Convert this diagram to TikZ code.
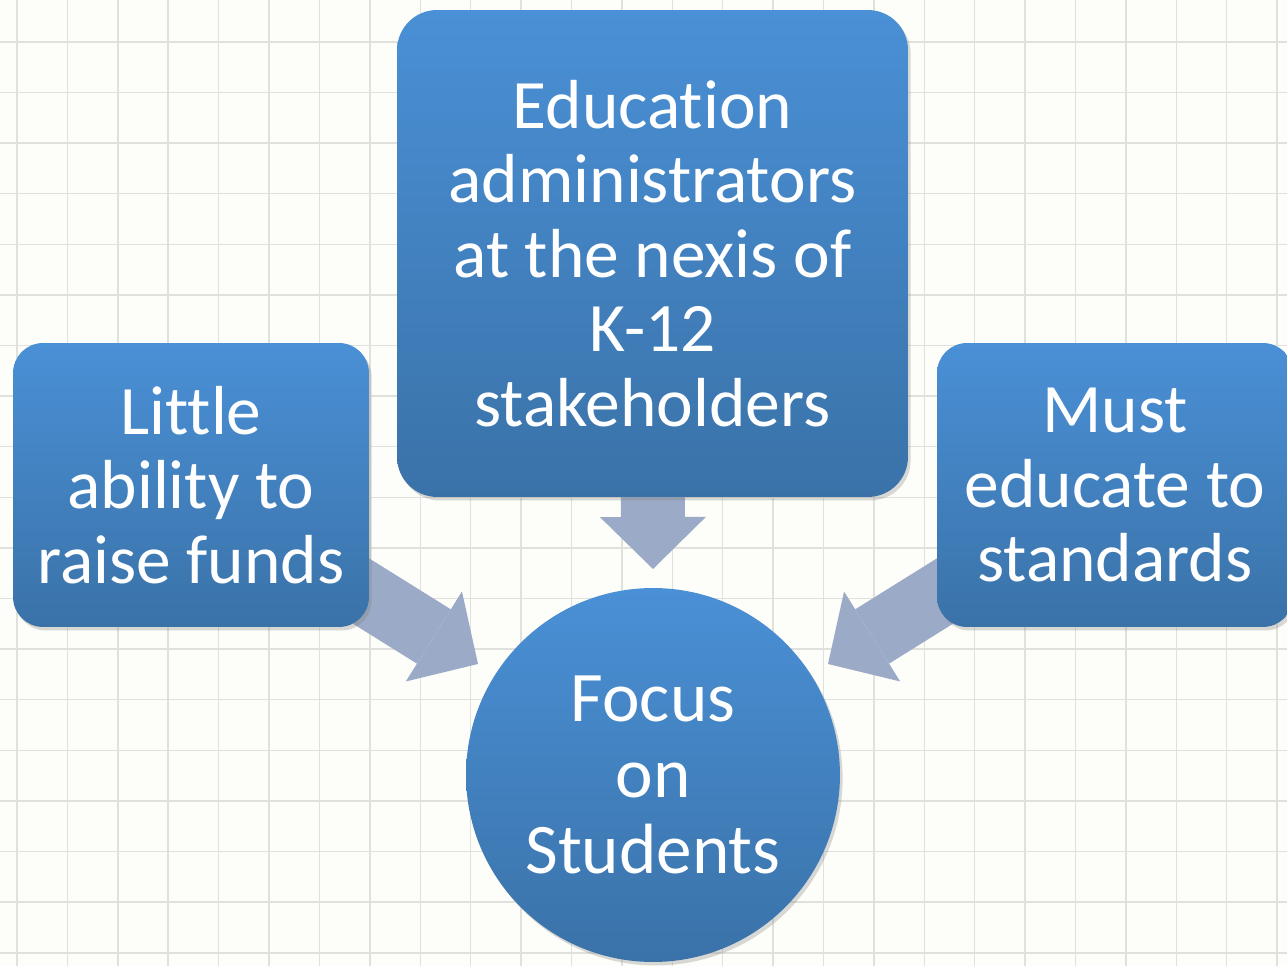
\documentclass[tikz,border=0pt]{standalone}
\usepackage{fontspec}
\setmainfont{Carlito}[Ligatures=NoCommon]
\usepackage{xcolor}
\usepackage{tikz}
\usetikzlibrary{shapes,arrows.meta,positioning,shadows}
\definecolor{boxtop}{HTML}{4A90D6}
\definecolor{boxbot}{HTML}{3A72A8}
\definecolor{arrowfill}{HTML}{9BAAC6}
\definecolor{paper}{HTML}{FDFDF9}
\definecolor{gridline}{HTML}{E0E0DC}
\pgfdeclarelayer{grid}
\pgfdeclarelayer{arrows}
\pgfsetlayers{grid,arrows,main}

\begin{document}
\begin{tikzpicture}[x=0.02cm, y=0.02cm,
        block/.style={rectangle, top color=boxtop, bottom color=boxbot, text=white, align=center, font=\fontsize{39.5}{42.4}\selectfont, rounded corners=0.6cm, minimum width=7.12cm, minimum height=5.68cm, drop shadow={shadow xshift=1.5pt, shadow yshift=-2pt, opacity=0.3}},
        hub/.style={circle, top color=boxtop, bottom color=boxbot, text=white, align=center, font=\fontsize{40.5}{43.5}\selectfont, minimum size=7.48cm, inner sep=0pt, drop shadow={shadow xshift=1.5pt, shadow yshift=-2pt, opacity=0.3}},
        arrow/.style={line width=1.28cm, draw=arrowfill, -{Triangle[length=1.04cm, width=2.12cm, line width=0pt]}}
    ]
        % Paper
        \useasboundingbox (0,0) rectangle (1287,966);
        \begin{pgfonlayer}{grid}
        \fill[paper] (0,0) rectangle (1287,966);
        \foreach \i in {0,...,25}
            \draw[gridline, line width=0.8pt] (17+50.4*\i,0) -- (17+50.4*\i,966);
        \foreach \j in {0,...,18}
            \draw[gridline, line width=0.8pt] (0,924-50.6*\j) -- (1287,924-50.6*\j);
        \end{pgfonlayer}

        % Blocks
        \node[block, rounded corners=0.8cm, minimum width=10.22cm, minimum height=9.74cm] (admin) at (652.5,712.5) {Education\\administrators\\at the nexis of\\K-12\\stakeholders};
        \node[block] (funds) at (191,481) {Little\\ability to\\raise funds};
        \node[block] (standards) at (1115,481) {Must\\educate to\\standards};
        \node[hub] (focus) at (653,191) {Focus\\on\\Students};

        % Arrow tips
        \coordinate (downtip) at (653,397);
        \coordinate (lefttip) at (478,302);
        \coordinate (righttip) at (828,302);

        % Arrows
        \begin{pgfonlayer}{arrows}
        \draw[arrow] (admin.center) -- (downtip);
        \draw[arrow] (funds.center) -- (lefttip);
        \draw[arrow] (standards.center) -- (righttip);
        \end{pgfonlayer}

    \end{tikzpicture}
\end{document}
